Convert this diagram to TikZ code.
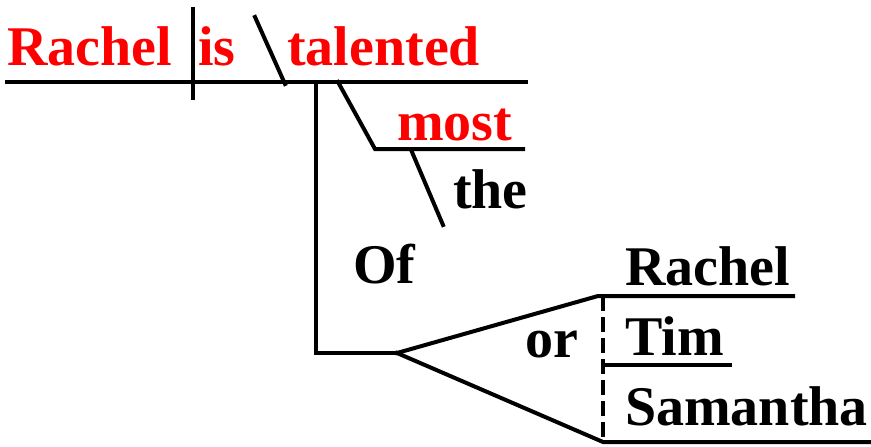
\documentclass[tikz,border=0pt]{standalone}
\usepackage{fontspec}
\setmainfont{Liberation Serif}
\definecolor{wred}{RGB}{255,0,0}
\begin{document}
\begin{tikzpicture}[x=1pt,y=-1pt,
  word/.style={anchor=base west,inner sep=0pt,font=\fontsize{56}{60}\selectfont\bfseries},
  redword/.style={word,text=wred},
  ln/.style={line width=4pt,line cap=rect},
  dashln/.style={line width=3.2pt,dash pattern=on 15pt off 6pt}]
\useasboundingbox (0,0) rectangle (871,447);
% coordinates
\coordinate (mainL) at (7,82);
\coordinate (mainR) at (526,82);
\coordinate (divT) at (193,9);
\coordinate (divB) at (193,98);
\coordinate (slT) at (255,17);
\coordinate (slB) at (285,84);
\coordinate (vT) at (316,82);
\coordinate (vB) at (316,353);
\coordinate (fork) at (397,353);
\coordinate (modT) at (338,82);
\coordinate (modB) at (375,149);
\coordinate (mostR) at (523,149);
\coordinate (theT) at (412,152);
\coordinate (theB) at (443,225);
\coordinate (upEnd) at (598,296);
\coordinate (loEnd) at (603,442);
\coordinate (dashT) at (603,296);
\coordinate (dashB) at (603,442);
\coordinate (rachR) at (793,296);
\coordinate (timL) at (603,365);
\coordinate (timR) at (730,365);
\coordinate (samR) at (871,442);
% words
\node[redword] (rachel) at (7,65) {Rachel};
\node[redword] (is) at (198,65) {is};
\node[redword] (talented) at (287,65) {talented};
\node[redword] (most) at (397,140) {most};
\node[word] (the) at (453,208) {the};
\node[word] (of) at (353,283) {Of};
\node[word] (or) at (525,357) {or};
\node[word] (rachel2) at (625,285) {Rachel};
\node[word] (tim) at (625,355) {Tim};
\node[word] (sam) at (625,425) {Samantha};
% lines
\draw[ln] (mainL) -- (mainR);
\draw[ln] (divT) -- (divB);
\draw[ln] (slT) -- (slB);
\draw[ln,line join=miter] (vT) -- (vB) -- (fork);
\draw[ln,line join=miter] (modT) -- (modB) -- (mostR);
\draw[ln] (theT) -- (theB);
\draw[ln,line join=miter] (fork) -- (upEnd) -- (rachR);
\draw[ln,line join=miter] (fork) -- (loEnd) -- (samR);
\draw[ln] (timL) -- (timR);
\draw[dashln] (dashT) -- (dashB);
\end{tikzpicture}
\end{document}
